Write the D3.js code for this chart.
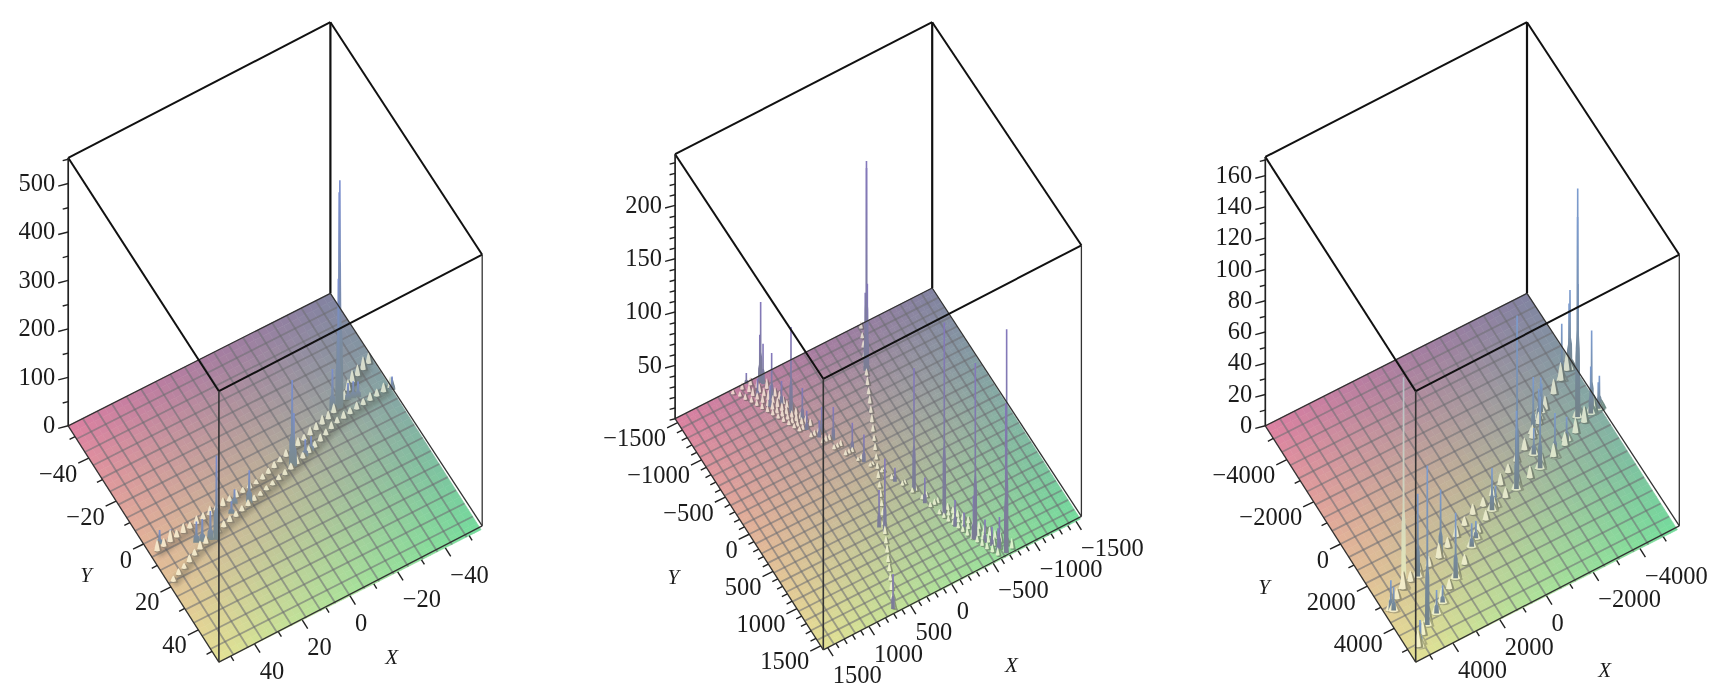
<!DOCTYPE html>
<html>
<head>
<meta charset="utf-8">
<script src="https://cdn.jsdelivr.net/npm/d3@7"></script>
<style>
html,body{margin:0;padding:0;background:#fff;overflow:hidden}
svg{display:block;filter:blur(0.7px)}
text{font-family:"Liberation Serif",serif;fill:#1c1c1c}
</style>
</head>
<body>
<svg id="chart" width="1724" height="697"></svg>
<script>
// ---------- tick labels ----------
const xTicksA = [-40,-20,0,20,40];
const yTicksA = [-40,-20,0,20,40];
const zTicksA = [0,100,200,300,400,500];
const xTicksB = [-1500,-1000,-500,0,500,1000,1500];
const yTicksB = [-1500,-1000,-500,0,500,1000,1500];
const zTicksB = [50,100,150,200];
const xTicksC = [-4000,-2000,0,2000,4000];
const yTicksC = [-4000,-2000,0,2000,4000];
const zTicksC = [0,20,40,60,80,100,120,140,160];

// ---------- surface colours: rows run left->front, columns run towards the back/right ----------
const surfaceColors = [
  ["#dc80a1","#ab7ca1","#8282a1"],
  ["#e2b298","#bcb298","#84ada4"],
  ["#e4e194","#aae19a","#74dc9c"]
];

// ---------- panel A : tall peaks [X, Y, Z] ----------
const peaksA = [
  [50,3,30],[46,4,26],[38,9,44],[36,9.8,48],[33,10.5,60],[31,11.5,174],[13.2,4.4,68],[18,2,30],[21,5,26],
  [-7.8,-0.8,179],[-8.4,-0.6,110],[-14,-2,36],[-17,-3,30],[-32,-13.5,85],
  [-35,-13.3,468],[-34.6,-13.1,445],[-35.2,-13.4,297],[-34.2,-13,268],[-39,-14.3,35],[-41,-14,35],[-42.8,-13.6,32],[-55,-10,28]
];
const upperRidgeA = [
  [52,5,24],[49,4.6,18],[46,4.1,26],[43,3.6,16],[40,3.2,20],[37,2.8,14],[34,2.4,18],[31,2,15],[28,1.7,20],[25,1.2,14],
  [22,0.8,18],[19,0.4,13],[16,0.1,16],[13,-0.3,12],[10,-0.6,14],[7,-1,10],[4,-1.5,12],[1,-2.5,12],[-2,-3.5,14],[-5,-4.5,12],
  [-8,-5.3,16],[-11,-6.2,14],[-14,-7,18],[-17,-7.8,14],[-20,-8.6,18],[-23,-9.4,16],[-26,-10.2,20],[-29,-11,18],[-32,-12.2,20],
  [-35,-13.4,22],[-38,-15,20],[-41,-17.5,24],[-44,-19.7,26],[-47,-21,24],[-50,-22.2,28],[-53,-23.4,24]
];
const lowerRidgeA = [
  [53,18.6,12],[50,17.2,14],[47,16,12],[44,14.6,16],[41,13.2,14],[38,12,18],[35,11,16],[32,10,18],[29,9.2,16],[26,8.4,14],
  [23,7.6,14],[20,6.9,12],[17,6,12],[14,5.3,14],[11,4.5,12],[8,3.8,10],[5,3,10],[2,2.3,10],[-1,1.6,12],[-4,0.9,12],
  [-7,0,14],[-10,-0.8,16],[-13,-1.7,14],[-16,-2.6,16],[-19,-3.5,14],[-22,-4.6,16],[-25,-5.8,14],[-28,-7,16],[-31,-8,14],
  [-34,-8.5,16],[-37,-9,14],[-40,-9.4,16],[-43,-9.8,14],[-46,-10.1,18],[-49,-10.4,16],[-52,-10.7,20],[-55,-11,24]
];

// ---------- panel B ----------
const peaksB = [
  [-469,-1050,197],[-472,-1054,190],[-460,-1060,73],[-476,-1044,82],
  [565,-1474,76],[572,-1480,45],[550,-1450,38],[564,-1245,44],[466,-1010,81],[401,-885,30],[303,-649,25],[236,-522,31],[131,-306,27],[87,-139,26],
  [311,689,70],[330,600,35],[-82,218,13],[-197,418,116],[-229,590,24],[-327,827,182],[-473,1224,166],[-462,1205,41],
  [-681,1520,210],[-676,1510,140],[-366,985,25],[-544,1304,22],[-590,1370,18],[680,1500,33],[700,-1540,10],
  [-640,1440,30],[-600,1480,24],[-500,1150,20],[-420,1080,18],[680,-1340,18],[620,-1180,20],[500,-1150,22],[420,-760,18],[350,-620,16]
];
const crossRidgeB = [
  [-670,-1505,7],[-625,-1400,6],[-580,-1300,7],[-535,-1200,6],[-490,-1100,8],[-446,-1000,7],[-400,-900,8],[-357,-800,7],
  [-312,-700,8],[-268,-600,7],[-223,-500,8],[-178,-400,7],[-134,-300,6],[-89,-200,7],[-45,-100,6],[0,0,6],[45,100,7],[89,200,6],
  [134,300,7],[178,400,6],[223,500,7],[268,600,6],[312,700,8],[357,800,7],[400,900,8],[446,1000,7],[490,1100,8],[535,1200,7],
  [580,1300,8],[625,1400,7],[670,1500,9]
];
const bandRidgeB = [
  [880,-1500,5],[770,-1500,7],[670,-1500,8],[560,-1500,12],[830,-1440,5],[720,-1440,7],[620,-1440,8],[800,-1380,6],[710,-1380,8],[630,-1380,9],[540,-1380,10],
  [760,-1320,6],[690,-1320,7],[610,-1320,8],[530,-1320,9],[730,-1260,6],[660,-1260,8],[590,-1260,10],[510,-1260,9],[700,-1200,6],[630,-1200,7],[570,-1200,8],[490,-1200,9],
  [670,-1140,6],[610,-1140,8],[550,-1140,9],[480,-1140,8],[640,-1080,6],[590,-1080,7],[530,-1080,8],[470,-1080,8],
  [610,-1020,5],[560,-1020,7],[510,-1020,8],[450,-1020,9],[580,-960,5],[530,-960,6],[480,-960,7],[430,-960,8],[550,-900,5],[510,-900,6],[460,-900,8],[410,-900,7],
  [520,-840,5],[480,-840,6],[430,-840,7],[380,-840,7],[490,-780,5],[450,-780,6],[410,-780,7],[360,-780,7],[420,-660,5],[380,-660,6],[330,-660,6],[300,-660,7],
  [350,-540,5],[310,-540,6],[270,-540,6],[280,-420,5],[240,-420,5],[200,-420,6],[210,-300,5],[170,-300,5],[130,-300,5],
  [130,-180,4],[90,-180,5],[50,-60,4],[20,-60,4],[-20,60,4],[-40,60,4],[-70,180,5],[-100,180,4],[-130,300,5],[-160,300,5],
  [-180,420,5],[-220,420,6],[-230,540,5],[-280,540,6],[-260,660,5],[-310,660,6],[-350,660,6],[-300,780,5],[-350,780,6],[-400,780,7],
  [-320,840,5],[-375,840,6],[-430,840,7],[-340,900,6],[-400,900,6],[-450,900,7],[-365,960,6],[-425,960,6],[-480,960,7],[-390,1020,6],[-450,1020,7],[-510,1020,7],
  [-410,1080,6],[-475,1080,7],[-540,1080,8],[-430,1140,7],[-500,1140,7],[-570,1140,8],[-455,1200,7],[-525,1200,8],[-600,1200,8],
  [-480,1260,7],[-550,1260,8],[-630,1260,9],[-505,1320,7],[-580,1320,8],[-660,1320,9],[-530,1380,7],[-610,1380,9],[-690,1380,10],
  [-560,1440,8],[-645,1440,9],[-725,1440,10],[-590,1500,8],[-680,1500,9],[-760,1500,10]
];

// ---------- panel C ----------
const peaksC = [
  [-4700,-258,146],[-4690,-250,128],[-4720,-270,84.5],[-5480,-2190,49],[-5400,-2120,42],[-4940,-1864,36],[-5220,-125,53],[-5190,-140,30],
  [-5600,-210,20],[-5530,-170,17],[-1250,1230,111],[-1230,1220,50],[-2920,-470,36],[-2420,910,46],[-3400,-900,19],[-3700,-1200,16],
  [-3140,763,28],[-3860,380,15],[-3600,-1100,22],[-2500,300,17],[0,1536,27],[-200,1450,13],[1410,2480,15],[1100,2250,11],
  [2580,3320,42],[2620,2270,43],[4460,4480,102],[3770,2570,53],[3920,4230,15],[3500,3950,11],[5330,3280,19],[5250,3350,15],[5140,5120,17],[5050,5000,13]
];
const palePeaksC = [[4470,2730,135],[4430,2700,44]];
const upperRidgeC = [
  [5300,3250,9],[4900,3000,7],[4500,2750,12],[4100,2620,7],[3700,2560,9],[3200,2420,7],[2700,2300,10],[2200,2080,7],[1700,1850,8],
  [1200,1600,6],[700,1350,7],[200,1250,6],[-300,1050,7],[-800,800,8],[-1300,500,6],[-1800,250,7],[-2300,-20,8],[-2800,-300,9],
  [-3300,-700,8],[-3800,-1100,9],[-4400,-1500,10],[-4900,-1850,12],[-5300,-2100,12]
];
const lowerRidgeC = [
  [5200,5100,11],[4800,4750,9],[4400,4450,12],[3900,4200,8],[3500,3900,9],[3000,3600,7],[2500,3280,10],[2000,3000,7],[1400,2480,8],
  [900,2100,6],[400,1800,7],[-100,1530,8],[-700,1350,7],[-1300,1230,10],[-1900,1080,8],[-2500,900,10],[-3100,750,9],[-3700,550,9],
  [-4300,300,10],[-4800,80,11],[-5300,-130,12]
];

// ---------- panels (geometry and styling) ----------
const panels = [
 {id:"a", L:[68.2,425.8],F:[218.9,662.2],B:[330.4,293.3],R:[482.2,525.8],topY:22.2,floorH:268,
  ext:[-55,55], zMax:553, zStep:50, xStep:10, cells:18,
  xT:xTicksA,yT:yTicksA,zT:zTicksA, peaks:peaksA, pale:[], bumps:[upperRidgeA,lowerRidgeA], lines:[upperRidgeA,lowerRidgeA],
  spikeTop:"#7b8fd0", spikeBot:"#7a8a8c", bumpW:3.8, spikeW:1.8, flare:1.8, mound:0,
  xLab:[391.6,656.9], yLab:[86.2,574.7]},
 {id:"b", L:[675.1,418.7],F:[823.3,649.8],B:[932.2,288],R:[1081.4,516.4],topY:22.2,floorH:264.5,
  ext:[-1553,1553], zMax:248, zStep:10, xStep:100, cells:24,
  xT:xTicksB,yT:yTicksB,zT:zTicksB, peaks:peaksB, pale:[], bumps:[crossRidgeB,bandRidgeB], lines:[],
  spikeTop:"#8478bc", spikeBot:"#7a7d92", bumpW:2.6, spikeW:1.2, flare:1.6, mound:0,
  xLab:[1011.4,665.3], yLab:[673.3,576.9]},
 {id:"c", L:[1265.3,425.8],F:[1415.7,662.2],B:[1527,293.3],R:[1679.3,525.8],topY:22.2,floorH:268.9,
  ext:[-5600,5600], zMax:172, zStep:10, xStep:1000, cells:18,
  xT:xTicksC,yT:yTicksC,zT:zTicksC, peaks:peaksC, pale:palePeaksC, bumps:[upperRidgeC,lowerRidgeC], lines:[],
  spikeTop:"#7c9cd0", spikeBot:"#728288", bumpW:4.2, spikeW:1.4, flare:1.7, mound:9,
  xLab:[1604.6,670.2], yLab:[1264.2,586.7]}
];

const svg = d3.select("#chart");
const defs = svg.append("defs");
const fmt = v => (v<0 ? "\u2212"+Math.abs(v) : String(v));
const colorScale = t => d3.scaleLinear().domain([0,.5,1]).range(t).interpolate(d3.interpolateRgb);

panels.forEach(p=>{
  const g = svg.append("g");
  const [lo,hi] = p.ext;
  const yU = d3.scaleLinear().domain([lo,hi]).range([0,1]);
  const xV = d3.scaleLinear().domain([hi,lo]).range([0,1]);
  const floorH = p.floorH;
  const zH = d3.scaleLinear().domain([0,p.zMax]).range([0,floorH]);
  const ex=[p.F[0]-p.L[0],p.F[1]-p.L[1]], ey=[p.B[0]-p.L[0],p.B[1]-p.L[1]];
  const uv=(u,v)=>[p.L[0]+u*ex[0]+v*ey[0], p.L[1]+u*ex[1]+v*ey[1]];
  const proj=(X,Y,Z=0)=>{const q=uv(yU(Y),xV(X));return [q[0],q[1]-zH(Z)];};
  const rows=surfaceColors.map(colorScale);
  const col=(u,v)=>colorScale(rows.map(r=>r(v)))(u);

  // surface patches
  const n=p.cells*2;
  const patches=[];
  d3.range(n).forEach(i=>d3.range(n).forEach(j=>patches.push([i/n,j/n])));
  g.append("g").selectAll("path").data(patches).join("path")
    .attr("d",d=>{const s=1/n,a=uv(d[0],d[1]),b=uv(d[0]+s,d[1]),c=uv(d[0]+s,d[1]+s),e=uv(d[0],d[1]+s);
        return "M"+[a,b,c,e].map(q=>q.map(t=>t.toFixed(2)).join(",")).join("L")+"Z";})
    .attr("fill",d=>col(d[0]+.5/n,d[1]+.5/n))
    .attr("stroke",d=>col(d[0]+.5/n,d[1]+.5/n)).attr("stroke-width",0.6);

  // wire grid
  const gl=g.append("g").attr("stroke","#6c6c72").attr("stroke-opacity",0.58).attr("stroke-width",1.8);
  d3.range(1,p.cells).forEach(i=>{
    const t=i/p.cells;
    const a=uv(t,0),b=uv(t,1),c=uv(0,t),d=uv(1,t);
    gl.append("line").attr("x1",a[0]).attr("y1",a[1]).attr("x2",b[0]).attr("y2",b[1]);
    gl.append("line").attr("x1",c[0]).attr("y1",c[1]).attr("x2",d[0]).attr("y2",d[1]);
  });

  // ridge shadows
  const ln=d3.line().x(d=>proj(d[0],d[1])[0]).y(d=>proj(d[0],d[1])[1]+3);
  p.lines.forEach(r=>g.append("path").attr("d",ln(r)).attr("fill","none")
     .attr("stroke","#4c4c42").attr("stroke-opacity",.33).attr("stroke-width",8).style("filter","blur(2px)"));

  // spike gradients
  const gid="sp"+p.id;
  const grad=defs.append("linearGradient").attr("id",gid).attr("x1",0).attr("x2",0).attr("y1",0).attr("y2",1);
  grad.append("stop").attr("offset",0).attr("stop-color",p.spikeTop);
  grad.append("stop").attr("offset",1).attr("stop-color",p.spikeBot);
  const gid2="pl"+p.id;
  const grad2=defs.append("linearGradient").attr("id",gid2).attr("x1",0).attr("x2",0).attr("y1",0).attr("y2",1);
  grad2.append("stop").attr("offset",0).attr("stop-color","#b4bcc6");
  grad2.append("stop").attr("offset",1).attr("stop-color","#e6e8b8");

  // all raised marks, far to near
  const marks=[];
  p.bumps.forEach(r=>r.forEach(d=>marks.push({k:"b",d})));
  p.peaks.forEach(d=>marks.push({k:"s",d}));
  p.pale.forEach(d=>marks.push({k:"p",d}));
  marks.forEach(m=>{m.base=proj(m.d[0],m.d[1]);m.top=proj(m.d[0],m.d[1],m.d[2]);});
  marks.sort((a,b)=>d3.ascending(a.base[1],b.base[1]));
  const mg=g.append("g").style("filter","blur(0.45px)");
  const poly=(pts,fill)=>mg.append("polygon").attr("points",pts.map(q=>q.map(t=>t.toFixed(2)).join(",")).join(" ")).attr("fill",fill);
  const curve=(bx,by,ty,w,fill)=>mg.append("path")
     .attr("d",`M${bx-w},${by}Q${bx-w*.25},${ty} ${bx},${ty}Q${bx+w*.25},${ty} ${bx+w},${by}Q${bx},${by+w*.5} ${bx-w},${by}Z`).attr("fill",fill);
  marks.forEach(m=>{
    const [bx,by]=m.base,ty=m.top[1];
    const fc=col(yU(m.d[1]),xV(m.d[0]));
    if(m.k==="b"){
      const w=p.bumpW;
      const pale=d3.interpolateRgb(fc,"#fffde2")(.66), dark=d3.interpolateRgb(fc,"#50544e")(.5);
      curve(bx+.9,by+.6,ty+1,w,dark);
      curve(bx-.5,by-.4,ty,w*.75,pale);
    } else {
      if(p.mound){
        curve(bx+.8,by+1.2,by-p.mound,6.5,d3.interpolateRgb(fc,"#50544e")(.35));
        curve(bx-.4,by+.5,by-p.mound,5,d3.interpolateRgb(fc,"#fbfbe0")(.65));
      }
      const w=p.spikeW, t=.8, h=by-ty;
      const big=w*p.flare;
      poly([[bx-big,by],[bx-big*.85,by-h*.3],[bx-w*.7,by-h*.38],[bx-t,ty],[bx+t,ty],[bx+w*.7,by-h*.38],[bx+big*.85,by-h*.3],[bx+big,by]],"url(#"+(m.k==="p"?gid2:gid)+")");
    }
  });

  // box
  const [Lx,Ly]=p.L,[Fx,Fy]=p.F,[Bx,By]=p.B,[Rx,Ry]=p.R;
  const seg=(a,b,w,c)=>g.append("line").attr("x1",a[0]).attr("y1",a[1]).attr("x2",b[0]).attr("y2",b[1]).attr("stroke",c||"#111").attr("stroke-width",w);
  const LT=[Lx,Ly-floorH],FT=[Fx,Fy-271],BT=[Bx,p.topY],RT=[Rx,Ry-271.1];
  seg(p.L,p.F,1.3,"#333");seg(p.F,p.R,1.3,"#333");seg(p.L,p.B,1.3,"#333");seg(p.B,p.R,1.3,"#333");
  seg(LT,BT,2);seg(BT,RT,2);seg(RT,FT,2);seg(FT,LT,2);
  seg(p.L,LT,1.7,"#222");seg(p.B,BT,2.2,"#111");seg(p.F,FT,1.6,"#333");seg(p.R,RT,1.3,"#333");

  // axes
  const tk=g.append("g").attr("stroke","#222").attr("stroke-width",1.4);
  const tick=(a,dx,dy)=>tk.append("line").attr("x1",a[0]).attr("y1",a[1]).attr("x2",a[0]+dx).attr("y2",a[1]+dy);
  const minors=(step,max)=>d3.range(Math.ceil(-max/step)*step,max+1e-6,step);
  minors(p.xStep,hi).forEach(v=>{
    const major=p.xT.includes(v);
    tick(proj(v,hi), major?5.4:2.9, major?8.6:4.6);
    tick(proj(hi,v), major?-10.5:-5.5, major?5.2:2.8);
  });
  d3.range(0,p.zMax+1e-6,p.zStep).forEach(v=>{
    const major=p.zT.includes(v);
    const a=[Lx,Ly-zH(v)];
    tick(a, major?-10:-5.5, major?2.6:1.4);
  });
  const txt=(x,y,s,anc,size,ital)=>g.append("text").attr("x",x).attr("y",y).attr("text-anchor",anc).attr("font-size",size).attr("font-style",ital?"italic":"normal").text(s);
  p.zT.forEach(v=>txt(Lx-13,Ly-zH(v)+7.2,fmt(v),"end",24.5));
  p.yT.forEach(v=>{const a=proj(hi,v);txt(a[0]-11.5,a[1]+23.5,fmt(v),"end",24.5);});
  p.xT.forEach(v=>{const a=proj(v,hi);txt(a[0]+5,a[1]+35,fmt(v),"start",24.5);});
  txt(p.xLab[0],p.xLab[1]+7,"X","middle",21,true);
  txt(p.yLab[0],p.yLab[1]+7,"Y","middle",21,true);
});
</script>
</body>
</html>
